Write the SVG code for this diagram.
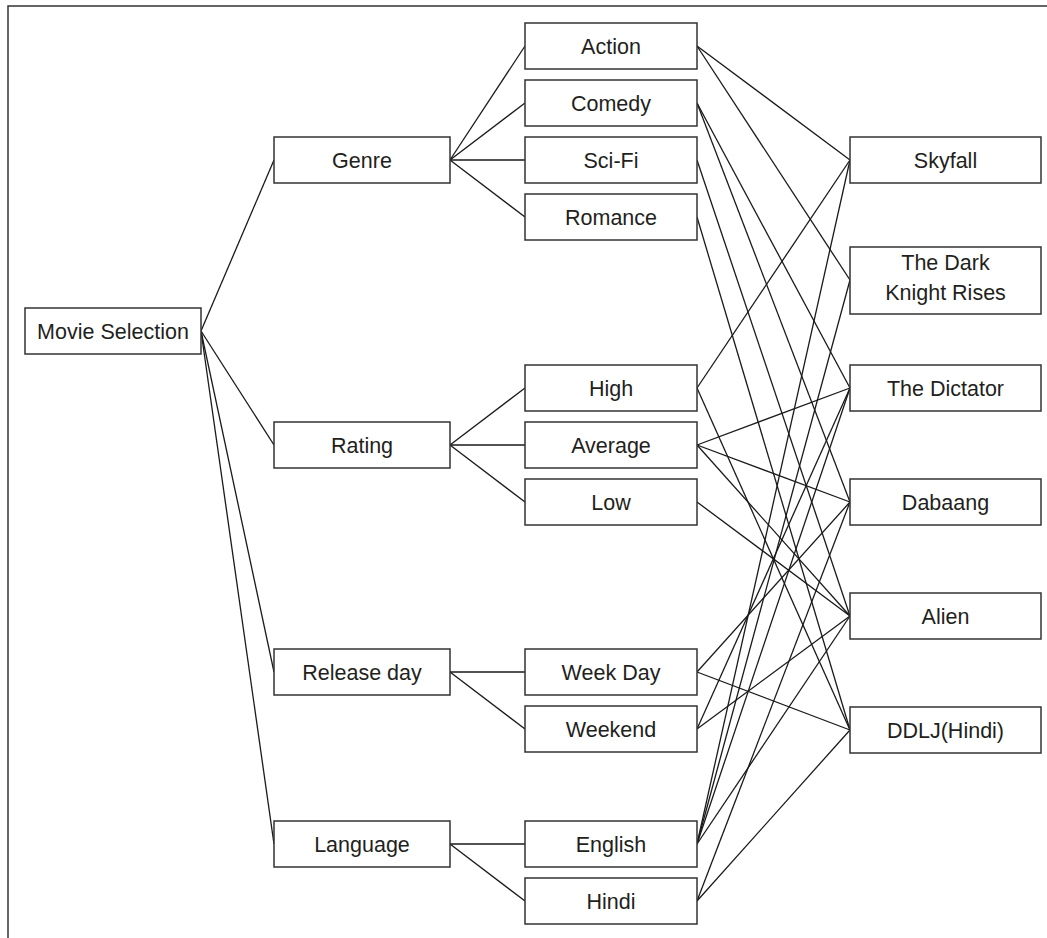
<svg xmlns="http://www.w3.org/2000/svg" width="1047" height="938" viewBox="0 0 1047 938">
<style>
.box{fill:#fff;stroke:#333;stroke-width:1.5}
.t{font-family:"Liberation Sans",Arial,sans-serif;font-size:21.5px;fill:#231f20;text-anchor:middle}
.c line{stroke:#1a1a1a;stroke-width:1.3}
</style>
<rect width="1047" height="938" fill="#fff"/>
<path d="M8,938 V6 H1047" fill="none" stroke="#333" stroke-width="1.5"/>
<g class="c" id="connectors">
<line x1="201" y1="331" x2="274" y2="160"/>
<line x1="201" y1="331" x2="274" y2="445"/>
<line x1="201" y1="331" x2="274" y2="672"/>
<line x1="201" y1="331" x2="274" y2="844"/>
<line x1="450" y1="160" x2="525" y2="46"/>
<line x1="450" y1="160" x2="525" y2="103"/>
<line x1="450" y1="160" x2="525" y2="160"/>
<line x1="450" y1="160" x2="525" y2="217"/>
<line x1="450" y1="445" x2="525" y2="388"/>
<line x1="450" y1="445" x2="525" y2="445"/>
<line x1="450" y1="445" x2="525" y2="502"/>
<line x1="450" y1="672" x2="525" y2="672"/>
<line x1="450" y1="672" x2="525" y2="729"/>
<line x1="450" y1="844" x2="525" y2="844"/>
<line x1="450" y1="844" x2="525" y2="901"/>
<line x1="697" y1="46" x2="850" y2="160"/>
<line x1="697" y1="46" x2="850" y2="280"/>
<line x1="697" y1="103" x2="850" y2="388"/>
<line x1="697" y1="103" x2="850" y2="502"/>
<line x1="697" y1="160" x2="850" y2="616"/>
<line x1="697" y1="217" x2="850" y2="730"/>
<line x1="697" y1="388" x2="850" y2="160"/>
<line x1="697" y1="388" x2="850" y2="730"/>
<line x1="697" y1="445" x2="850" y2="388"/>
<line x1="697" y1="445" x2="850" y2="502"/>
<line x1="697" y1="445" x2="850" y2="616"/>
<line x1="697" y1="502" x2="850" y2="616"/>
<line x1="697" y1="672" x2="850" y2="502"/>
<line x1="697" y1="672" x2="850" y2="730"/>
<line x1="697" y1="729" x2="850" y2="388"/>
<line x1="697" y1="729" x2="850" y2="616"/>
<line x1="697" y1="844" x2="850" y2="160"/>
<line x1="697" y1="844" x2="850" y2="280"/>
<line x1="697" y1="844" x2="850" y2="388"/>
<line x1="697" y1="844" x2="850" y2="616"/>
<line x1="697" y1="901" x2="850" y2="502"/>
<line x1="697" y1="901" x2="850" y2="730"/>
</g>
<g id="movie-selection"><rect class="box" x="25" y="308" width="176" height="46"/><text class="t" x="113" y="338.5">Movie Selection</text></g>
<g id="genre"><rect class="box" x="274" y="137" width="176" height="46"/><text class="t" x="362" y="167.5">Genre</text></g>
<g id="rating"><rect class="box" x="274" y="422" width="176" height="46"/><text class="t" x="362" y="452.5">Rating</text></g>
<g id="release-day"><rect class="box" x="274" y="649" width="176" height="46"/><text class="t" x="362" y="679.5">Release day</text></g>
<g id="language"><rect class="box" x="274" y="821" width="176" height="46"/><text class="t" x="362" y="851.5">Language</text></g>
<g id="action"><rect class="box" x="525" y="23" width="172" height="46"/><text class="t" x="611" y="53.5">Action</text></g>
<g id="comedy"><rect class="box" x="525" y="80" width="172" height="46"/><text class="t" x="611" y="110.5">Comedy</text></g>
<g id="scifi"><rect class="box" x="525" y="137" width="172" height="46"/><text class="t" x="611" y="167.5">Sci-Fi</text></g>
<g id="romance"><rect class="box" x="525" y="194" width="172" height="46"/><text class="t" x="611" y="224.5">Romance</text></g>
<g id="high"><rect class="box" x="525" y="365" width="172" height="46"/><text class="t" x="611" y="395.5">High</text></g>
<g id="average"><rect class="box" x="525" y="422" width="172" height="46"/><text class="t" x="611" y="452.5">Average</text></g>
<g id="low"><rect class="box" x="525" y="479" width="172" height="46"/><text class="t" x="611" y="509.5">Low</text></g>
<g id="week-day"><rect class="box" x="525" y="649" width="172" height="46"/><text class="t" x="611" y="679.5">Week Day</text></g>
<g id="weekend"><rect class="box" x="525" y="706" width="172" height="46"/><text class="t" x="611" y="736.5">Weekend</text></g>
<g id="english"><rect class="box" x="525" y="821" width="172" height="46"/><text class="t" x="611" y="851.5">English</text></g>
<g id="hindi"><rect class="box" x="525" y="878" width="172" height="46"/><text class="t" x="611" y="908.5">Hindi</text></g>
<g id="skyfall"><rect class="box" x="850" y="137" width="191" height="46"/><text class="t" x="945.5" y="167.5">Skyfall</text></g>
<g id="dark-knight"><rect class="box" x="850" y="247" width="191" height="67"/><text class="t" x="945.5" y="270">The Dark</text><text class="t" x="945.5" y="300">Knight Rises</text></g>
<g id="dictator"><rect class="box" x="850" y="365" width="191" height="46"/><text class="t" x="945.5" y="395.5">The Dictator</text></g>
<g id="dabaang"><rect class="box" x="850" y="479" width="191" height="46"/><text class="t" x="945.5" y="509.5">Dabaang</text></g>
<g id="alien"><rect class="box" x="850" y="593" width="191" height="46"/><text class="t" x="945.5" y="623.5">Alien</text></g>
<g id="ddlj"><rect class="box" x="850" y="707" width="191" height="46"/><text class="t" x="945.5" y="737.5">DDLJ(Hindi)</text></g>
</svg>
